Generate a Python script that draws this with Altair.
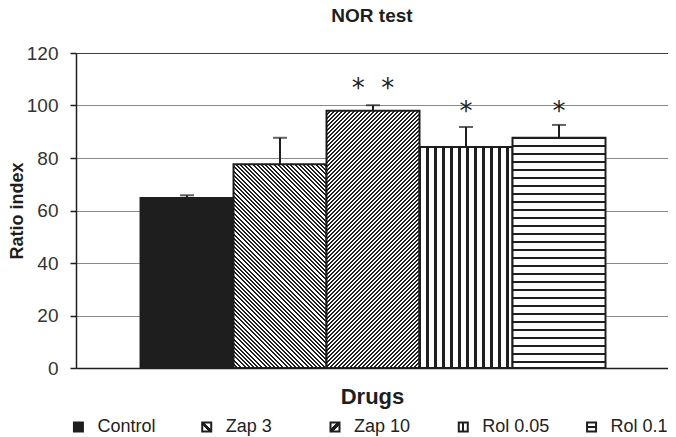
import altair as alt
import pandas as pd

# ---------------- data ----------------
drugs = ["Control", "Zap 3", "Zap 10", "Rol 0.05", "Rol 0.1"]
means = [64.8, 77.6, 98.0, 84.2, 87.7]
upper = [65.8, 87.7, 100.1, 91.8, 92.6]
stars = ["", "", "*\u00a0\u00a0*", "*", "*"]
star_y = [None, None, 106.4, 97.7, 97.7]
y_ticks = [0, 20, 40, 60, 80, 100, 120]

# ---------------- layout / style ----------------
W, H = 592, 315
Y_MAX = 120
PAD_OUTER = 0.683
ALIGN = 0.508
FONT = "Liberation Sans"
INK = "#1e1e1e"
step = W / (len(drugs) + 2 * PAD_OUTER)
NO_FRAME = alt.ViewBackground(stroke="transparent", strokeWidth=0, strokeOpacity=0)


def stripe_stops(length, period, line, phase=0.0):
    """Black lines of `line` px every `period` px along `length` px, as gradient stops."""
    stops = [{"offset": 0, "color": "white"}]
    c = phase
    while c - line / 2 < length:
        a = max(0.0, c - line / 2) / length
        b = min(length, c + line / 2) / length
        if b > a:
            a, b = round(a, 5), round(b, 5)
            stops += [{"offset": a, "color": "white"}, {"offset": a, "color": INK},
                      {"offset": b, "color": INK}, {"offset": b, "color": "white"}]
        c += period
    stops.append({"offset": 1, "color": "white"})
    return stops


def diag_fill(w, h, period, line, down):
    k = (w + h) / (w * w + h * h)
    a, b = w * k, h * k
    if down:   # "\\\\" hatch
        g = {"x1": 0, "y1": 1, "x2": a, "y2": 1 - b}
    else:      # "////" hatch
        g = {"x1": 0, "y1": 0, "x2": a, "y2": b}
    g.update({"gradient": "linear", "stops": stripe_stops(w + h, period, line)})
    return g


def bar_fill(i):
    w = step
    h = means[i] / Y_MAX * H
    if i == 0:
        return INK
    if i == 1:
        return diag_fill(w, h, 4.2, 2.0, True)
    if i == 2:
        return diag_fill(w, h, 4.0, 1.7, False)
    if i == 3:
        return {"gradient": "linear", "x1": 0, "y1": 0, "x2": 1, "y2": 0,
                "stops": stripe_stops(w, 8.0, 2.2)}
    return {"gradient": "linear", "x1": 0, "y1": 0, "x2": 0, "y2": 1,
            "stops": stripe_stops(h, 8.0, 2.0)}


def legend_fill(i):
    if i == 0:
        return INK
    centre = [{"offset": 0, "color": "white"}, {"offset": 0.38, "color": "white"},
              {"offset": 0.38, "color": INK}, {"offset": 0.62, "color": INK},
              {"offset": 0.62, "color": "white"}, {"offset": 1, "color": "white"}]
    dirs = {1: (0, 1, 1, 0), 2: (0, 0, 1, 1), 3: (0, 0, 1, 0), 4: (0, 0, 0, 1)}
    x1, y1, x2, y2 = dirs[i]
    return {"gradient": "linear", "x1": x1, "y1": y1, "x2": x2, "y2": y2, "stops": centre}


df = pd.DataFrame({"drug": drugs, "mean": means, "upper": upper,
                   "star": stars, "star_y": star_y})

x_enc = alt.X(
    "drug:N", sort=drugs,
    scale=alt.Scale(domain=drugs, paddingInner=0, paddingOuter=PAD_OUTER, align=ALIGN),
    axis=alt.Axis(labels=False, ticks=False, grid=False, domain=True,
                  domainColor=INK, domainWidth=1.5, title="Drugs",
                  titleFont=FONT, titleFontSize=22, titleFontWeight="bold",
                  titleColor=INK, titlePadding=18),
)
y_scale = alt.Scale(domain=[0, Y_MAX], nice=False)
y_axis = alt.Axis(values=y_ticks, grid=True,
                  gridColor={"condition": {"test": "datum.value === 120", "value": "#404040"},
                             "value": "#8a8a8a"},
                  gridWidth=1,
                  domainColor=INK, domainWidth=1.5, tickColor=INK, tickSize=6,
                  tickWidth=1.5, labelFont=FONT, labelFontSize=19, labelColor="#333333",
                  labelPadding=12, title="Ratio index", titleFont=FONT,
                  titleFontSize=18, titleFontWeight="bold", titleColor=INK,
                  titlePadding=0)

base = alt.Chart(df)
layers = []
for i, d in enumerate(drugs):
    layers.append(
        base.transform_filter(alt.datum.drug == d)
        .mark_bar(fill=bar_fill(i), stroke=INK, strokeWidth=2)
        .encode(x=x_enc, y=alt.Y("mean:Q", scale=y_scale, axis=y_axis, title="Ratio index"))
    )

err = base.mark_rule(color=INK, strokeWidth=2).encode(
    x=x_enc, y=alt.Y("mean:Q", scale=y_scale, title="Ratio index"), y2="upper:Q")
cap = base.mark_tick(color=INK, thickness=2, size=14).encode(
    x=x_enc, y=alt.Y("upper:Q", scale=y_scale, title="Ratio index"))
star = base.transform_filter("datum.star != ''").mark_text(
    font="DejaVu Sans", fontSize=26, baseline="middle", color=INK
).encode(x=x_enc, y=alt.Y("star_y:Q", scale=y_scale, title="Ratio index"), text="star:N")

main = alt.layer(err, *layers, cap, star).properties(
    width=W, height=H, view=NO_FRAME,
    title=alt.TitleParams("NOR test", font=FONT, fontSize=19, fontWeight="bold",
                          color=INK, anchor="middle", frame="group", offset=18),
)

# ---------------- custom legend ----------------
leg_df = pd.DataFrame({"drug": drugs})
lx = alt.X("drug:N", sort=drugs,
           scale=alt.Scale(type="point", domain=drugs, padding=0.019), axis=None)
leg_layers = []
for i, d in enumerate(drugs):
    leg_layers.append(
        alt.Chart(leg_df).transform_filter(alt.datum.drug == d)
        .mark_square(size=81, fill=legend_fill(i), stroke=INK, strokeWidth=2, opacity=1)
        .encode(x=lx)
    )
leg_text = alt.Chart(leg_df).mark_text(
    align="left", baseline="middle", dx=19, font=FONT, fontSize=18, color="#222222"
).encode(x=lx, text="drug:N")
legend = alt.layer(*leg_layers, leg_text).properties(width=518, height=18, view=NO_FRAME)

chart = (
    alt.vconcat(main, legend, spacing=11)
    .properties(padding={"top": -1, "left": 0, "right": 0, "bottom": 0})
    .configure_view(stroke="transparent", strokeWidth=0)
    .configure(font=FONT)
)

chart.save("out.html", embed_options={"renderer": "svg", "actions": False})
